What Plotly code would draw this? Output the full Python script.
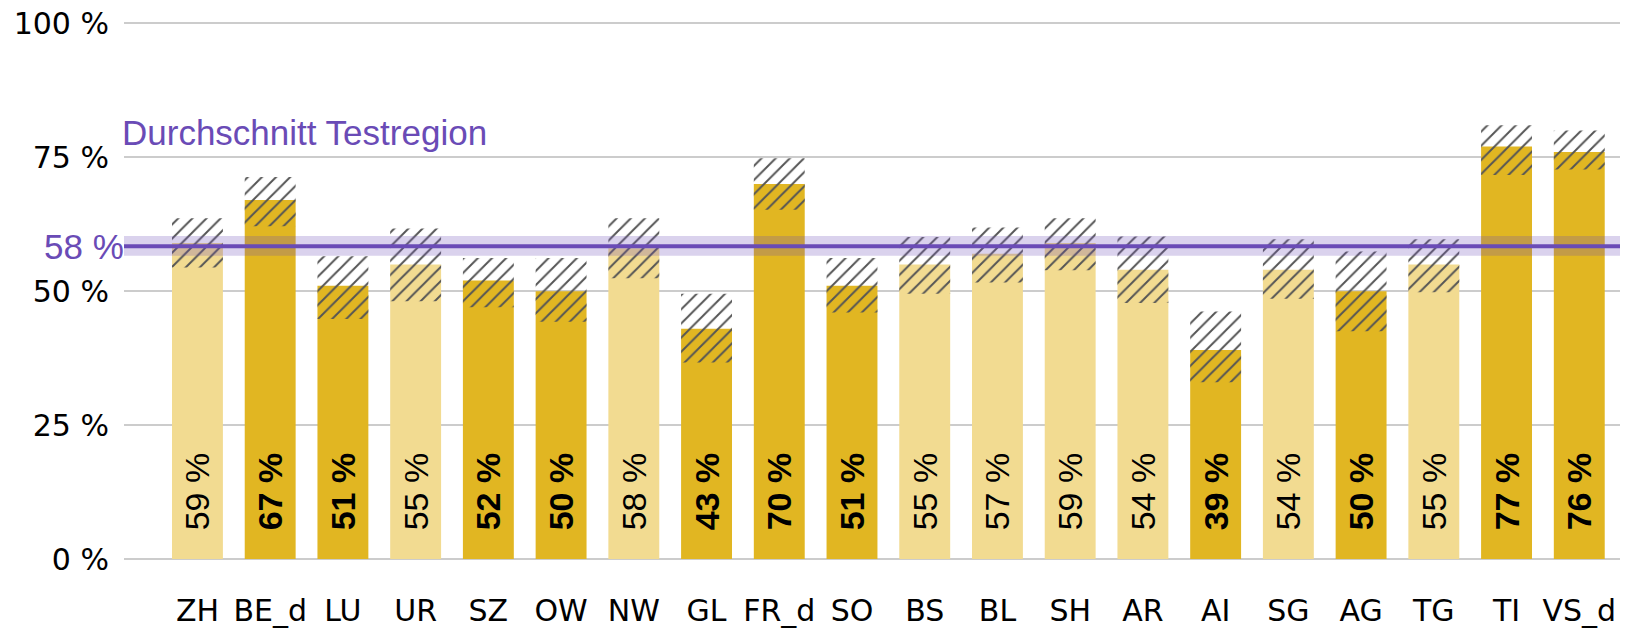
import plotly.graph_objects as go

# Kantone und Anteile (%)
kantone = ["ZH", "BE_d", "LU", "UR", "SZ", "OW", "NW", "GL", "FR_d", "SO",
           "BS", "BL", "SH", "AR", "AI", "SG", "AG", "TG", "TI", "VS_d"]
werte = [59, 67, 51, 55, 52, 50, 58, 43, 70, 51,
         55, 57, 59, 54, 39, 54, 50, 55, 77, 76]
ci_low = [54.4, 62.1, 44.8, 48.1, 47.0, 44.3, 52.4, 36.7, 65.2, 46.0,
          49.5, 51.6, 53.9, 47.8, 33.0, 48.6, 42.5, 49.8, 71.7, 72.7]
ci_high = [63.6, 71.3, 56.5, 61.7, 56.2, 56.2, 63.6, 49.5, 74.8, 56.2,
           60.1, 61.9, 63.6, 60.2, 46.2, 59.7, 57.4, 59.7, 81.0, 80.0]
# dunkle Balken = signifikant abweichend
dunkel = [False, True, True, False, True, True, False, True, True, True,
          False, False, False, False, True, False, True, False, True, True]

durchschnitt = 58.4
band_low, band_high = 56.6, 60.3

HELL = "#F2DB91"
DUNKEL = "#E1B622"
LILA = "#6A4BB6"

farben = [DUNKEL if d else HELL for d in dunkel]
labels = [f"<b>{v} %</b>" if d else f"{v} %" for v, d in zip(werte, dunkel)]

fig = go.Figure()

fig.add_trace(go.Bar(x=kantone, y=werte, marker=dict(color=farben, line=dict(width=0)),
                     width=0.7, hoverinfo="skip"))

# Konfidenzintervall schraffiert
fig.add_trace(go.Bar(
    x=kantone, y=[h - l for h, l in zip(ci_high, ci_low)], base=ci_low, width=0.7,
    marker=dict(color="rgba(0,0,0,0)", line=dict(width=0),
                pattern=dict(shape="/", size=10, solidity=0.2, fgcolor="#555555",
                             fgopacity=1, fillmode="overlay")),
    hoverinfo="skip"))

# Beschriftung unten in den Balken
label_base = 4.8
fig.add_trace(go.Bar(
    x=kantone, y=[v - label_base for v in werte], base=label_base, width=0.7,
    marker=dict(color="rgba(0,0,0,0)", line=dict(width=0)),
    text=labels, textposition="inside", insidetextanchor="start", textangle=-90,
    textfont=dict(family="Liberation Sans, Arial", size=34, color="black"),
    hoverinfo="skip"))

fig.add_shape(type="rect", xref="paper", x0=0, x1=1, y0=band_low, y1=band_high,
              fillcolor="rgba(106,75,182,0.25)", line=dict(width=0), layer="above")
fig.add_shape(type="line", xref="paper", x0=0, x1=1, y0=durchschnitt, y1=durchschnitt,
              line=dict(color=LILA, width=4), layer="above")

fig.add_annotation(xref="paper", x=0, y=durchschnitt, text=f"{round(durchschnitt)} %",
                   xanchor="right", yanchor="middle", showarrow=False, xshift=2,
                   font=dict(family="Liberation Sans, Arial", size=35, color=LILA))
fig.add_annotation(xref="paper", x=0, y=79.6, text="Durchschnitt Testregion",
                   xanchor="left", yanchor="middle", showarrow=False, xshift=-4,
                   font=dict(family="Liberation Sans, Arial", size=35, color=LILA))

# page body has an 8px margin, so the figure is 8px smaller
fig.update_layout(
    width=1620, height=622,
    template="none",
    barmode="overlay",
    showlegend=False,
    plot_bgcolor="white", paper_bgcolor="white",
    margin=dict(l=116, r=0, t=10, b=71),
    font=dict(family="DejaVu Sans, Verdana", size=30, color="black"),
    uniformtext=dict(minsize=34, mode="show"),
)
fig.update_xaxes(range=[-1.01, 19.67], showgrid=False, showline=False, ticks="",
                 ticklabelstandoff=31, automargin=False, ticklabeloverflow="allow",
                 tickfont=dict(family="DejaVu Sans, Verdana", size=30))
fig.update_yaxes(range=[0, 101], tickvals=[0, 25, 50, 75, 100],
                 ticktext=["0 %", "25 %", "50 %", "75 %", "100 %"],
                 showgrid=True, gridcolor="#CCCCCC", gridwidth=1.5,
                 zeroline=True, zerolinecolor="#CCCCCC", zerolinewidth=1.5,
                 showline=False, ticks="", ticklabelstandoff=14, automargin=False,
                 ticklabeloverflow="allow",
                 tickfont=dict(family="DejaVu Sans, Verdana", size=30))

fig.write_html("out.html")
